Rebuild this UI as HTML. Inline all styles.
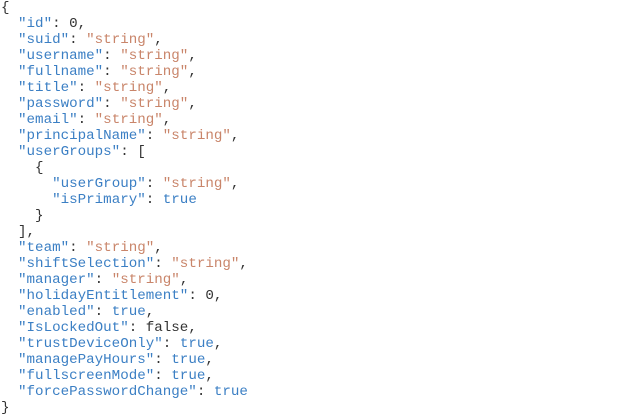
<!DOCTYPE html>
<html><head><style>
html,body{margin:0;padding:0;background:#fff;width:640px;height:417px;overflow:hidden}
pre{margin:0;position:absolute;left:1px;top:0px;font-family:"Liberation Mono","Cousine","DejaVu Sans Mono","Courier New",Courier,monospace;font-size:14.2px;line-height:16px;color:#333}
.k{color:#3b7fc4}.s{color:#c9856a}.b{color:#3b7fc4}
</style></head><body>
<pre>{
  <span class="k">"id"</span>: 0,
  <span class="k">"suid"</span>: <span class="s">"string"</span>,
  <span class="k">"username"</span>: <span class="s">"string"</span>,
  <span class="k">"fullname"</span>: <span class="s">"string"</span>,
  <span class="k">"title"</span>: <span class="s">"string"</span>,
  <span class="k">"password"</span>: <span class="s">"string"</span>,
  <span class="k">"email"</span>: <span class="s">"string"</span>,
  <span class="k">"principalName"</span>: <span class="s">"string"</span>,
  <span class="k">"userGroups"</span>: [
    {
      <span class="k">"userGroup"</span>: <span class="s">"string"</span>,
      <span class="k">"isPrimary"</span>: <span class="b">true</span>
    }
  ],
  <span class="k">"team"</span>: <span class="s">"string"</span>,
  <span class="k">"shiftSelection"</span>: <span class="s">"string"</span>,
  <span class="k">"manager"</span>: <span class="s">"string"</span>,
  <span class="k">"holidayEntitlement"</span>: 0,
  <span class="k">"enabled"</span>: <span class="b">true</span>,
  <span class="k">"IsLockedOut"</span>: false,
  <span class="k">"trustDeviceOnly"</span>: <span class="b">true</span>,
  <span class="k">"managePayHours"</span>: <span class="b">true</span>,
  <span class="k">"fullscreenMode"</span>: <span class="b">true</span>,
  <span class="k">"forcePasswordChange"</span>: <span class="b">true</span>
}</pre>
</body></html>
